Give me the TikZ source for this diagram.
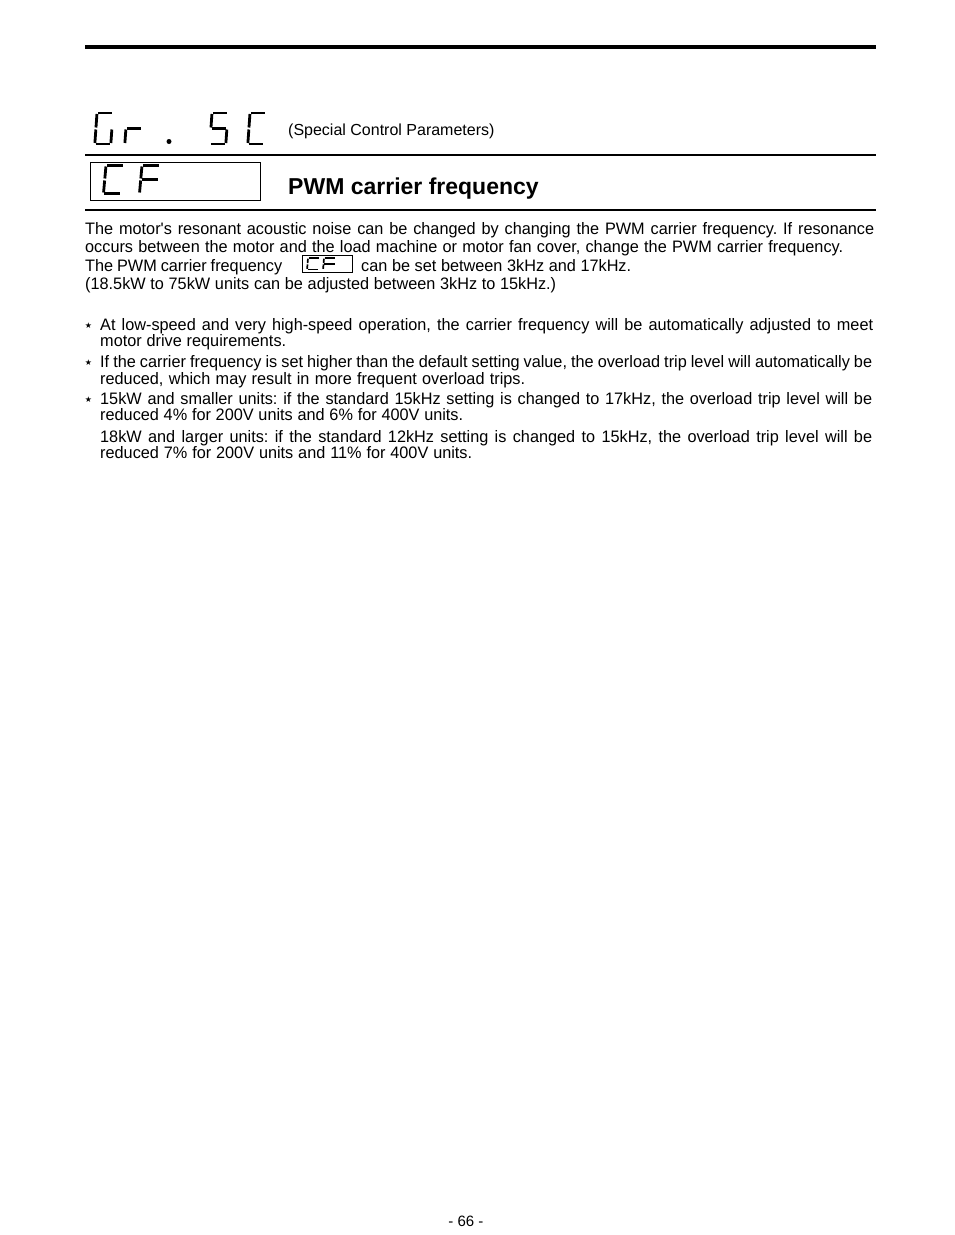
\documentclass[tikz,border=0pt]{standalone}
\usepackage{fontspec}
\setmainfont{Liberation Sans}
\newfontfamily\bodyfont[FakeStretch=0.98]{Liberation Sans}
\newfontfamily\symfont{DejaVu Sans}
\frenchspacing
\newcommand\segw{16}
\newcommand\segh{31}
\newcommand\segg{1.0}
% seven-segment pieces, local coords: origin top-left, y down
\newcommand\sgA{\draw[segline] ({\segg},0) -- ({\segw-\segg},0);}
\newcommand\sgB{\draw[segline] (\segw,{\segg}) -- (\segw,{\segh/2-\segg});}
\newcommand\sgC{\draw[segline] (\segw,{\segh/2+\segg}) -- (\segw,{\segh-\segg});}
\newcommand\sgD{\draw[segline] ({\segg},\segh) -- ({\segw-\segg},\segh);}
\newcommand\sgE{\draw[segline] (0,{\segh/2+\segg}) -- (0,{\segh-\segg});}
\newcommand\sgF{\draw[segline] (0,{\segg}) -- (0,{\segh/2-\segg});}
\newcommand\sgG{\draw[segline] ({\segg},{\segh/2}) -- ({\segw-\segg},{\segh/2});}
\begin{document}
\begin{tikzpicture}[x=1pt,y=-1pt,
  segline/.style={line width=2.8pt,line cap=butt},
  bodyline/.style={anchor=base west,inner sep=0pt,font=\bodyfont\fontsize{16.6}{18}\selectfont},
  starmark/.style={anchor=center,inner sep=0pt,font=\symfont\fontsize{8}{8}\selectfont},
  rulethick/.style={line width=3.5pt},
  rulemid/.style={line width=2.4pt},
  rulethin/.style={line width=1.5pt}]
\useasboundingbox[fill=white] (0,0) rectangle (954,1235);
% rules
\coordinate (r1a) at (85,47);  \coordinate (r1b) at (876,47);
\coordinate (r2a) at (85,155); \coordinate (r2b) at (876,155);
\coordinate (r3a) at (85,210); \coordinate (r3b) at (876,210);
\draw[rulethick] (r1a) -- (r1b);
\draw[rulethin] (r2a) -- (r2b);
\draw[rulemid] (r3a) -- (r3b);
% Gr. SC glyphs
\begin{scope}[shift={(97,113)},xslant=0.07]
  \sgA \sgF \sgE \sgD \sgC
\end{scope}
\begin{scope}[shift={(127,113)},xslant=0.07]
  \sgG \sgE
\end{scope}
\fill (169,141.5) circle (2.5);
\begin{scope}[shift={(212,113)},xslant=0.07]
  \sgA \sgF \sgG \sgC \sgD
\end{scope}
\begin{scope}[shift={(250,113)},xslant=0.07]
  \sgA \sgF \sgE \sgD
\end{scope}
\node[anchor=base west,inner sep=0pt,font=\fontsize{16}{18}\selectfont] (grtitle) at (288,135) {(Special Control Parameters)};
% CF box
\node[draw,line width=1.2pt,minimum width=170pt,minimum height=38pt,anchor=north west,inner sep=0pt] (cfbox) at (90,162) {};
\renewcommand\segw{18}\renewcommand\segh{28}
\begin{scope}[shift={(106,165.5)},xslant=0.09]
  \sgA \sgF \sgE \sgD
\end{scope}
\begin{scope}[shift={(142,165.5)},xslant=0.09]
  \sgA \sgF \sgG \sgE
\end{scope}
\node[anchor=base west,inner sep=0pt,font=\bfseries\fontsize{23}{26}\selectfont] (pwmtitle) at (288,194) {PWM carrier frequency};
% paragraph
\node[bodyline] (p1) at (85,234.5) {\makebox[789pt][s]{The motor's resonant acoustic noise can be changed by changing the PWM carrier frequency. If resonance}};
\node[bodyline] (p2) at (85,252.5) {\makebox[758pt][s]{occurs between the motor and the load machine or motor fan cover, change the PWM carrier frequency.}};
\node[bodyline] (p3a) at (85,271) {\makebox[197pt][s]{The PWM carrier frequency}};
\node[draw,line width=1.2pt,minimum width=50pt,minimum height=16.5pt,anchor=north west,inner sep=0pt] (cfinl) at (301.5,255) {};
\renewcommand\segw{12}\renewcommand\segh{11.5}\renewcommand\segg{0.7}
\tikzset{segline/.style={line width=1.7pt,line cap=butt}}
\begin{scope}[shift={(308,258)},xslant=0.08]
  \sgA \sgF \sgE \sgD
\end{scope}
\begin{scope}[shift={(324,258)},xslant=0.08]
  \sgA \sgF \sgG \sgE
\end{scope}
\node[bodyline] (p3b) at (361,271) {\makebox[270pt][s]{can be set between 3kHz and 17kHz.}};
\node[bodyline] (p4) at (85,289) {\makebox[471pt][s]{(18.5kW to 75kW units can be adjusted between 3kHz to 15kHz.)}};
% bullets
\node[starmark] (s1) at (88.5,326) {★};
\node[bodyline] (b1) at (100,330) {\makebox[773pt][s]{At low-speed and very high-speed operation, the carrier frequency will be automatically adjusted to meet}};
\node[bodyline] (b2) at (100,346) {\makebox[186pt][s]{motor drive requirements.}};
\node[starmark] (s2) at (88.5,363) {★};
\node[bodyline] (b3) at (100,367) {\makebox[772pt][s]{If the carrier frequency is set higher than the default setting value, the overload trip level will automatically be}};
\node[bodyline] (b4) at (100,384) {\makebox[425pt][s]{reduced, which may result in more frequent overload trips.}};
\node[starmark] (s3) at (88.5,400) {★};
\node[bodyline] (b5) at (100,404) {\makebox[772pt][s]{15kW and smaller units: if the standard 15kHz setting is changed to 17kHz, the overload trip level will be}};
\node[bodyline] (b6) at (100,420) {\makebox[363pt][s]{reduced 4\% for 200V units and 6\% for 400V units.}};
\node[bodyline] (b7) at (100,442) {\makebox[772pt][s]{18kW and larger units: if the standard 12kHz setting is changed to 15kHz, the overload trip level will be}};
\node[bodyline] (b8) at (100,458) {\makebox[372pt][s]{reduced 7\% for 200V units and 11\% for 400V units.}};
% page number
\node[anchor=base,inner sep=0pt,font=\fontsize{15}{16}\selectfont] (pgno) at (466,1226) {- 66 -};
\end{tikzpicture}
\end{document}
